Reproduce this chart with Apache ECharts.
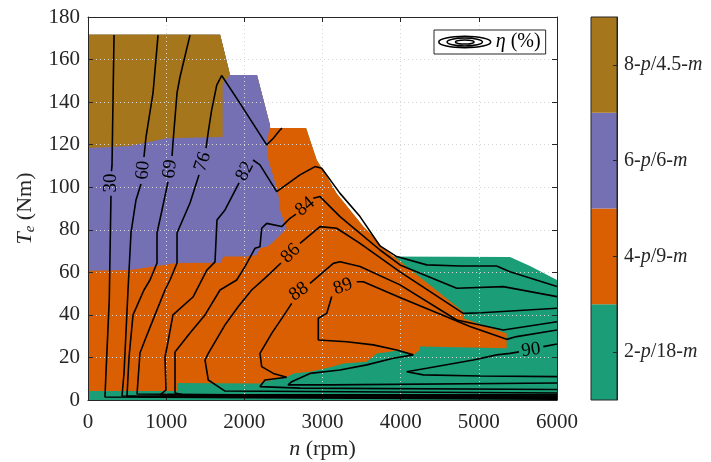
<!DOCTYPE html>
<html>
<head>
<meta charset="utf-8">
<script src="https://cdn.jsdelivr.net/npm/echarts@6/dist/echarts.min.js"></script>
<style>
html, body { margin: 0; padding: 0; background: #fff; }
#chart { width: 711px; height: 462px; }
</style>
</head>
<body>
<div id="chart"></div>
<script>
// speed n (rpm), torque Te (Nm)

// outer limit of the operating area, left to right
var envelopeTop = [[0, 171.6], [1690, 171.6], [1817, 152.8], [2162, 152.8], [2328, 129.3], [2330, 127.8],
    [2790, 127.8], [2840, 122.2], [2926, 112.8], [3054, 105], [3181, 97.1], [3352, 89.3], [3522, 81.5],
    [3650, 76.8], [3757, 72]];
var envelopeRight = [[3778, 67.4], [5399, 67.2], [5655, 63], [6000, 56.4]];

// border between 4-p (above) and 2-p (below), right to left
var greenTop = [[4801, 41.5], [4801, 38.4], [5356, 31.3], [5356, 24.3], [4247, 25.1], [4247, 23.5],
    [4162, 21.2], [3992, 23.5], [3863, 22.7], [3693, 21.9], [3565, 18], [3266, 17.2], [3138, 15.7],
    [2840, 13.3], [2627, 12.5], [2542, 10.7], [2243, 8.6], [2200, 7.8], [1139, 8], [1139, 4.2], [0, 4.2]];

// 6-p area
var purpleRegion = [[0, 60.8], [0, 171.6], [1690, 171.6], [1817, 152.8], [2162, 152.8], [2328, 129.3],
    [2286, 119.9], [2307, 112.8], [2371, 105], [2434, 97.1], [2456, 89.3], [2520, 83], [2542, 80.7],
    [2478, 78.3], [2350, 73.6], [2286, 72], [2200, 71.3], [2158, 68.2], [2030, 67.4], [1731, 67.4],
    [1700, 64.5], [1139, 64.4], [537, 61.1]];

// 8-p area
var brownRegion = [[0, 118.4], [537, 119.4], [1007, 123], [1723, 123.6], [1723, 148.8], [1817, 152.8],
    [1690, 171.6], [0, 171.6]];

var regionNames = ['2-p/18-m', '4-p/9-m', '6-p/6-m', '8-p/4.5-m'];
var regionColors = ['#1B9E77', '#D95F02', '#7570B3', '#A6761D'];

// efficiency contours, null = gap for the inline label
var eta30 = [[333, 171.5], [320, 141], [307, 110], [300, 107.5], null, [294, 96], [272, 47], [230, 12.7],
    [217, 1.4], [6000, 0.4]];
var eta60 = [[896, 171.5], [832, 144.3], [742, 123.6], [716, 114.2], null, [678, 101.5], [614, 94],
    [550, 78.5], [512, 51.7], [461, 12.7], [435, 1.9], [6000, 0.7]];
var eta69 = [[1305, 171.5], [1177, 151.8], [1139, 144.3], [1087, 120.8], [1075, 114.7], null, [1023, 102.5],
    [947, 89.3], [883, 78.5], [883, 64.4], [793, 56.4], [716, 51.7], [576, 40], [525, 20.2], [499, 1.9],
    [6000, 0.9]];
var eta76 = [[2482, 127.8], [2456, 126.9], [2371, 123], [2286, 119.9], [1945, 139.4], [1710, 152.5],
    [1647, 148], [1582, 136.3], [1539, 126.1], [1510, 118.4], null, [1420, 105.8], [1305, 92.6],
    [1139, 78.5], [1139, 64.4], [1049, 56.4], [985, 51.7], [857, 40], [729, 28.2], [665, 22.1],
    [627, 2.8], [6000, 1.3]];
var eta82 = [[6000, 53.3], [5399, 60.3], [5228, 63], [4759, 63], [4333, 63.5], [3949, 67.4], [3736, 72.4],
    [3480, 86.2], [3224, 97.1], [2990, 108.9], [2904, 109.7], [2712, 105.8], [2414, 97.9], [2200, 110.5],
    [2111, 112.8], null, [1932, 102], [1753, 89.3], [1650, 84.6], [1625, 64.9], [1522, 61.1], [1343, 48.4],
    [1087, 40], [1011, 24.9], [985, 20.2], [998, 4.7], [921, 2.4], [6000, 1.8]];
var eta84 = [[6000, 48.6], [5313, 53.3], [4717, 52.5], [3992, 63.5], [3736, 70.5], [3224, 86.2],
    [2968, 95.6], [2882, 94.8], null, [2661, 87.4], [2584, 85.4], [2478, 81.5], [2286, 83], [2222, 80.7],
    [2200, 72], [2136, 71.3], [2008, 62.7], [1902, 56.4], [1689, 51.7], [1497, 40], [1305, 31.5],
    [1113, 22.6], [1113, 3.3], [1203, 2.6], [6000, 2.4]];
var eta86 = [[6000, 43.1], [5036, 41], [4801, 40.7], [3992, 60.2], [3480, 73.6], [3181, 80.7], [2968, 81.5],
    [2712, 73.6], null, [2469, 64.4], [2264, 57.3], [2094, 51.7], [1923, 43.9], [1753, 35.3], [1539, 21.9],
    [1497, 18.8], [1539, 9.4], [1753, 4.2], [6000, 3.3]];
var eta88 = [[6000, 36.8], [5313, 32.9], [4717, 37.6], [3992, 54.1], [3480, 62.7], [3224, 65], [3138, 64.2],
    [2840, 54.8], null, [2606, 45.4], [2495, 39.2], [2350, 31.3], [2200, 21.9], [2222, 15.7], [2371, 12.5],
    [2542, 10.7], [2264, 9.4], [2200, 6.3], [2712, 5.6], [6000, 4.9]];
var eta89 = [[6000, 32.9], [5484, 29.8], [5356, 28.5], [4887, 34.5], [4013, 47.8], [3522, 55.6],
    [3438, 55.6], null, [3118, 48.6], [3054, 40.7], [2946, 38.4], [2946, 28.2], [3310, 27.4], [3650, 25.9],
    [3949, 23.5], [4162, 21.2], [3906, 19.6], [3565, 16.5], [3224, 14.1], [2840, 12.5], [2606, 8.6],
    [2559, 7.1], [3096, 7.1], [6000, 8]];
var eta90 = [[6000, 26.3], [5825, 25.1], null, [5514, 22.6], [5399, 21.9], [5228, 21.2], [4929, 18.8],
    [4333, 14.9], [4077, 13.3], [4290, 11.8], [5015, 11.3], [6000, 11]];

var contourLabels = [[294, 102, '30'], [704, 108, '60'], [1049, 108.6, '69'], [1467, 112, '76'],
    [2008, 107.5, '82'], [2776, 90.9, '84'], [2593, 68.9, '86'], [2699, 50.9, '88'], [3262, 53.3, '89'],
    [5667, 23.5, '90']];
var labelAngles = [90, 85, 84, 72, 62, 40, 45, 35, 20, 8];

var FONT = "'Liberation Serif', 'DejaVu Serif', serif";
var INK = '#262626';

var chart = echarts.init(document.getElementById('chart'), null, { renderer: 'canvas' });

function polygonSeries(points, color, z) {
    return {
        type: 'custom', xAxisIndex: 0, yAxisIndex: 0, z: z, silent: true,
        data: [[0, 0]],
        renderItem: function (params, api) {
            return {
                type: 'polygon',
                shape: { points: points.map(function (p) { return api.coord(p); }) },
                style: { fill: color }
            };
        }
    };
}

function contourSeries(points) {
    return {
        type: 'line', name: 'η (%)', xAxisIndex: 0, yAxisIndex: 0, z: 4, silent: true,
        symbol: 'none', showSymbol: false, connectNulls: false,
        lineStyle: { color: '#000', width: 1.6 },
        itemStyle: { color: '#000' },
        data: points.map(function (p) { return p ? p : ['-', '-']; })
    };
}

var series = [
    polygonSeries([[0, 0]].concat(envelopeTop, envelopeRight, [[6000, 0]]), regionColors[0], 1),
    polygonSeries(envelopeTop.concat(greenTop), regionColors[1], 1),
    polygonSeries(purpleRegion, regionColors[2], 1),
    polygonSeries(brownRegion, regionColors[3], 1)
];
[eta30, eta60, eta69, eta76, eta82, eta84, eta86, eta88, eta89, eta90].forEach(function (c) {
    series.push(contourSeries(c));
});
series.push({
    type: 'custom', xAxisIndex: 0, yAxisIndex: 0, z: 5, silent: true,
    data: contourLabels.map(function (l) { return [l[0], l[1]]; }),
    renderItem: function (params, api) {
        var p = api.coord([api.value(0), api.value(1)]);
        return {
            type: 'text', x: p[0], y: p[1],
            rotation: labelAngles[params.dataIndex] * Math.PI / 180,
            style: {
                text: contourLabels[params.dataIndex][2], fontSize: 19, fontFamily: FONT,
                fill: '#000', align: 'center', verticalAlign: 'middle'
            }
        };
    }
});
// colour bar
series.push({
    type: 'bar', xAxisIndex: 2, yAxisIndex: 2, z: 1, silent: true, barWidth: '100%',
    data: regionColors.map(function (c) { return { value: 1, itemStyle: { color: c } }; })
});

var splitStyle = { show: true, lineStyle: { color: '#d6d6d6', width: 1, type: [1, 3] } };
var tickIn = { show: true, inside: true, length: 5, lineStyle: { color: INK } };
var lineIn = { show: true, onZero: false, lineStyle: { color: INK, width: 1 } };

chart.setOption({
    animation: false,
    textStyle: { fontFamily: FONT },
    grid: [
        { left: 88, top: 17, width: 469, height: 383, outerBoundsMode: 'none' },
        { left: 591, top: 17, width: 26, height: 383, outerBoundsMode: 'none',
          show: true, borderColor: INK, borderWidth: 1, z: 6 }
    ],
    legend: {
        left: 434, top: 30, padding: [2, 5, 2, 4], itemWidth: 52, itemHeight: 12,
        backgroundColor: '#fff', borderColor: INK, borderWidth: 1, borderRadius: 0,
        data: [{ name: 'η (%)', icon: 'path://M1,6 A25,5.5 0 1,1 51,6 A25,5.5 0 1,1 1,6 Z M9,6 A17,3.8 0 1,1 43,6 A17,3.8 0 1,1 9,6 Z M17,6 A9,2 0 1,1 35,6 A9,2 0 1,1 17,6 Z' }],
        itemStyle: { color: 'transparent', borderColor: '#000', borderWidth: 1.5 },
        formatter: function () { return '{i|η} (%)'; },
        textStyle: {
            fontSize: 20, fontFamily: FONT, color: '#000',
            rich: { i: { fontSize: 20, fontFamily: FONT, fontStyle: 'italic', color: '#000' } }
        },
        selectedMode: false
    },
    xAxis: [
        {
            gridIndex: 0, type: 'value', min: 0, max: 6000, interval: 1000, position: 'bottom', z: 3,
            axisLine: lineIn, axisTick: tickIn, splitLine: splitStyle,
            axisLabel: {
                fontSize: 21, fontFamily: FONT, color: INK, margin: 12,
                formatter: function (v) { return String(v); }
            },
            name: '{i|n} (rpm)', nameLocation: 'middle', nameGap: 36,
            nameTextStyle: {
                fontSize: 22, fontFamily: FONT, color: INK,
                rich: { i: { fontSize: 22, fontFamily: FONT, fontStyle: 'italic', color: INK } }
            }
        },
        {
            gridIndex: 0, type: 'value', min: 0, max: 6000, interval: 1000, position: 'top', z: 3,
            axisLine: lineIn, axisTick: tickIn, axisLabel: { show: false }, splitLine: { show: false }
        },
        { gridIndex: 1, type: 'value', min: 0, max: 1, show: false }
    ],
    yAxis: [
        {
            gridIndex: 0, type: 'value', min: 0, max: 180, interval: 20, position: 'left', z: 3,
            axisLine: lineIn, axisTick: tickIn, splitLine: splitStyle,
            axisLabel: { fontSize: 21, fontFamily: FONT, color: INK, margin: 8 },
            name: '{i|T}{s|e} (Nm)', nameLocation: 'middle', nameGap: 40,
            nameTextStyle: {
                fontSize: 22, fontFamily: FONT, color: INK,
                rich: {
                    i: { fontSize: 22, fontFamily: FONT, fontStyle: 'italic', color: INK },
                    s: { fontSize: 15, fontFamily: FONT, fontStyle: 'italic', color: INK, padding: [10, 0, 0, 0] }
                }
            }
        },
        {
            gridIndex: 0, type: 'value', min: 0, max: 180, interval: 20, position: 'right', z: 3,
            axisLine: lineIn, axisTick: tickIn, axisLabel: { show: false }, splitLine: { show: false }
        },
        {
            gridIndex: 1, type: 'category', data: regionNames, position: 'right', z: 8,
            axisLine: lineIn,
            axisTick: { show: true, inside: true, alignWithLabel: true, length: 4, lineStyle: { color: INK } },
            axisLabel: {
                fontSize: 20, fontFamily: FONT, color: INK, margin: 7,
                formatter: function (v) { return v.replace(/([pm])/g, '{i|$1}'); },
                rich: { i: { fontSize: 20, fontFamily: FONT, fontStyle: 'italic', color: INK } }
            }
        }
    ],
    series: series
});
</script>
</body>
</html>
